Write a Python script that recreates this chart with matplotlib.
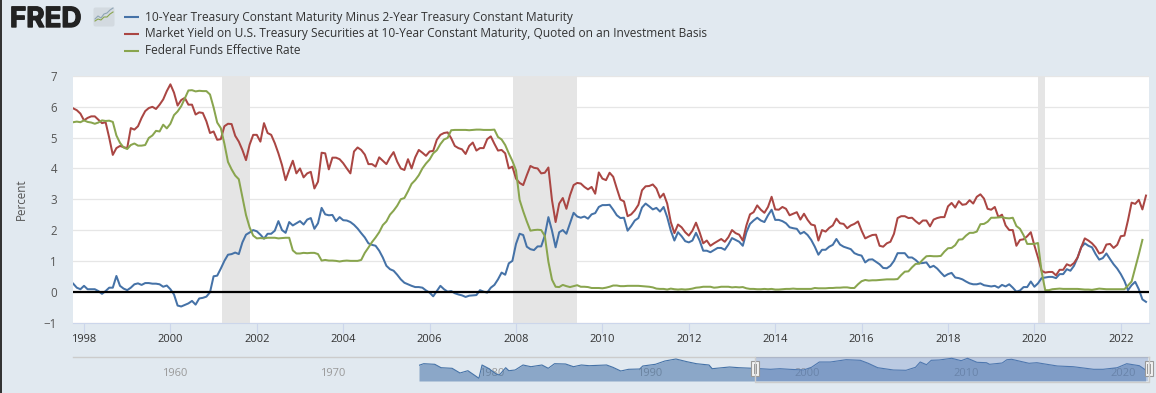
import numpy as np
import matplotlib
matplotlib.use("Agg")
import matplotlib.pyplot as plt
import matplotlib.patheffects as pe
from matplotlib.patches import FancyBboxPatch, Rectangle

W, H = 1156, 393
BG = '#e1e9f0'

# monthly, from Oct 1997
spread = (
    [.26, .13, .08]
    + [.19, .08, .08, .08, .02, -.07, .02, .13, .13, .51, .19, .10]
    + [.05, .13, .24, .27, .22, .28, .28, .26, .26, .24, .16, .20]
    + [.08, -.09, -.45, -.48, -.43, -.38, -.30, -.42, -.22, -.20, -.16, -.02]
    + [.50, .52, .75, 1.00, 1.20, 1.22, 1.27, 1.22, 1.60, 1.85, 1.92, 2.00]
    + [1.96, 1.85, 1.72, 1.88, 1.88, 1.98, 2.29, 2.00, 1.91, 2.26, 2.15, 2.22]
    + [2.29, 2.18, 2.34, 2.39, 2.04, 2.22, 2.72, 2.51, 2.48, 2.49, 2.29, 2.42]
    + [2.32, 2.31, 2.26, 2.17, 2.05, 1.90, 1.76, 1.57, 1.52, 1.49, 1.33, 1.11]
    + [.84, .73, .68, .55, .40, .29, .24, .19, .15, .15, .13, .04]
    + [-.03, -.15, .02, .19, .08, 0, .02, -.05, -.09, -.12, -.17, -.13]
    + [-.12, -.11, .05, 0, -.03, .13, .22, .40, .62, .55, .92, 1.00]
    + [1.55, 1.88, 1.84, 1.46, 1.38, 1.35, 1.47, 1.47, 1.82, 2.42, 1.98, 1.44]
    + [1.93, 2.00, 1.88, 2.22, 2.56, 2.44, 2.40, 2.44, 2.37, 2.51, 2.55, 2.75]
    + [2.81, 2.81, 2.82, 2.66, 2.48, 2.39, 2.40, 1.98, 2.13, 2.31, 2.39, 2.73]
    + [2.86, 2.77, 2.67, 2.72, 2.60, 2.75, 2.42, 1.98, 1.66, 1.93, 1.80, 1.64]
    + [1.60, 1.66, 1.91, 1.66, 1.33, 1.33, 1.28, 1.35, 1.42, 1.42, 1.36, 1.53]
    + [1.74, 1.68, 1.62, 1.49, 1.93, 2.20, 2.31, 2.40, 2.31, 2.26, 2.48, 2.66]
    + [2.33, 2.33, 2.29, 2.22, 2.09, 2.06, 2.04, 1.88, 1.94, 1.84, 1.68, 1.46]
    + [1.20, 1.36, 1.36, 1.46, 1.52, 1.71, 1.53, 1.46, 1.42, 1.38, 1.25, 1.20]
    + [1.17, .95, 1.04, 1.05, .97, .89, .77, .76, .84, 1.00, 1.25, 1.25]
    + [1.25, 1.11, 1.11, 1.03, .92, .93, .95, .79, .84, .75, .62, .50]
    + [.57, .61, .46, .44, .40, .33, .27, .24, .24, .27, .21, .19]
    + [.17, .19, .13, .22, .17, .24, .13, 0, .04, .15, .15, .33]
    + [.16, .27, .44, .46, .48, .48, .44, .57, .57, .73, .68, .84]
    + [1.11, 1.44, 1.57, 1.49, 1.44, 1.22, 1.04, 1.09, 1.24, 1.06, .89, .75]
    + [.57, .35, .05, .21, .32, .08, -.25, -.33]
)

yield_10y = (
    [5.95, 5.89, 5.78]
    + [5.56, 5.64, 5.69, 5.69, 5.58, 5.47, 5.50, 5.00, 4.44, 4.66, 4.73, 4.69]
    + [4.66, 5.31, 5.26, 5.37, 5.64, 5.86, 5.96, 6.00, 5.93, 6.07, 6.24, 6.51]
    + [6.73, 6.46, 6.04, 6.22, 6.29, 6.07, 6.07, 5.75, 5.82, 5.80, 5.53, 5.15]
    + [5.20, 4.93, 4.95, 5.37, 5.45, 5.44, 5.06, 4.87, 4.60, 4.27, 4.77, 5.09]
    + [5.09, 4.87, 5.47, 5.15, 5.09, 4.82, 4.49, 4.11, 3.62, 3.95, 4.25, 3.84]
    + [4.00, 3.71, 3.84, 3.89, 3.35, 3.57, 4.51, 4.49, 3.97, 4.35, 4.35, 4.30]
    + [4.17, 4.00, 3.84, 4.55, 4.68, 4.60, 4.45, 4.14, 4.14, 4.06, 4.36, 4.25]
    + [4.14, 4.36, 4.53, 4.22, 4.00, 3.95, 4.30, 4.00, 4.36, 4.60, 4.51, 4.41]
    + [4.55, 4.57, 4.93, 5.09, 5.15, 5.17, 4.98, 4.73, 4.66, 4.62, 4.47, 4.73]
    + [4.84, 4.58, 4.66, 4.66, 4.95, 5.04, 4.80, 4.58, 4.60, 4.49, 4.00, 4.06]
    + [3.67, 3.53, 3.46, 3.78, 4.08, 4.02, 4.00, 3.84, 3.86, 4.03, 2.97, 2.26]
    + [2.86, 3.04, 2.69, 3.13, 3.46, 3.53, 3.51, 3.40, 3.32, 3.40, 3.18, 3.87]
    + [3.67, 3.62, 3.86, 3.73, 3.35, 2.99, 2.93, 2.45, 2.51, 2.64, 2.82, 3.29]
    + [3.42, 3.43, 3.48, 3.35, 3.05, 3.18, 2.86, 2.26, 1.90, 2.18, 2.09, 1.93]
    + [1.82, 1.98, 2.24, 1.93, 1.57, 1.66, 1.49, 1.57, 1.64, 1.71, 1.62, 1.77]
    + [2.00, 1.90, 1.85, 1.66, 2.15, 2.51, 2.58, 2.80, 2.66, 2.56, 2.75, 3.08]
    + [2.67, 2.66, 2.75, 2.69, 2.48, 2.53, 2.58, 2.34, 2.53, 2.33, 2.18, 2.15]
    + [1.66, 2.00, 1.95, 2.07, 2.15, 2.37, 2.22, 2.20, 2.06, 2.15, 2.20, 2.28]
    + [1.98, 1.73, 1.79, 1.84, 1.85, 1.49, 1.46, 1.57, 1.62, 1.88, 2.39, 2.45]
    + [2.45, 2.39, 2.40, 2.29, 2.20, 2.31, 2.31, 2.12, 2.34, 2.39, 2.42, 2.42]
    + [2.77, 2.88, 2.73, 2.94, 2.82, 2.84, 2.97, 2.86, 3.08, 3.16, 3.02, 2.69]
    + [2.66, 2.75, 2.42, 2.50, 2.15, 2.00, 2.00, 1.49, 1.68, 1.70, 1.80, 1.93]
    + [1.50, 1.11, .68, .62, .64, .64, .53, .71, .71, .89, .84, .93]
    + [1.11, 1.44, 1.73, 1.66, 1.57, 1.44, 1.24, 1.28, 1.53, 1.55, 1.42, 1.52]
    + [1.80, 1.82, 2.32, 2.89, 2.85, 2.98, 2.67, 3.12]
)

fed_funds = (
    [5.50, 5.52, 5.50]
    + [5.56, 5.51, 5.49, 5.45, 5.49, 5.56, 5.54, 5.55, 5.51, 5.07, 4.83, 4.68]
    + [4.63, 4.76, 4.81, 4.74, 4.74, 4.76, 4.99, 5.07, 5.22, 5.20, 5.42, 5.30]
    + [5.45, 5.73, 5.85, 6.02, 6.27, 6.53, 6.54, 6.50, 6.52, 6.51, 6.51, 6.40]
    + [5.98, 5.49, 5.31, 4.80, 4.21, 3.97, 3.77, 3.65, 3.07, 2.49, 2.09, 1.82]
    + [1.73, 1.74, 1.73, 1.75, 1.75, 1.75, 1.73, 1.74, 1.75, 1.75, 1.34, 1.24]
    + [1.24, 1.26, 1.25, 1.26, 1.26, 1.22, 1.01, 1.03, 1.01, 1.01, 1.00, .98]
    + [1.00, 1.01, 1.00, 1.00, 1.00, 1.03, 1.26, 1.43, 1.61, 1.76, 1.93, 2.16]
    + [2.28, 2.50, 2.63, 2.79, 3.00, 3.04, 3.26, 3.50, 3.62, 3.78, 4.00, 4.16]
    + [4.29, 4.49, 4.59, 4.79, 4.94, 4.99, 5.24, 5.25, 5.25, 5.25, 5.25, 5.24]
    + [5.25, 5.26, 5.26, 5.25, 5.25, 5.25, 5.26, 5.02, 4.94, 4.76, 4.49, 4.24]
    + [3.94, 2.98, 2.61, 2.28, 1.98, 2.00, 2.01, 2.00, 1.81, .97, .39, .16]
    + [.15, .22, .18, .15, .18, .21, .16, .16, .15, .12, .12, .12]
    + [.11, .13, .16, .20, .20, .18, .18, .19, .19, .19, .19, .18]
    + [.17, .16, .14, .10, .09, .09, .07, .10, .08, .07, .08, .07]
    + [.08, .10, .13, .14, .16, .16, .16, .13, .14, .16, .16, .16]
    + [.14, .15, .14, .15, .11, .09, .09, .08, .08, .09, .08, .09]
    + [.07, .07, .08, .09, .09, .10, .09, .09, .09, .09, .09, .12]
    + [.11, .11, .11, .12, .12, .13, .13, .14, .14, .12, .12, .24]
    + [.34, .38, .36, .37, .37, .38, .39, .40, .40, .40, .41, .54]
    + [.65, .66, .79, .90, .91, 1.04, 1.15, 1.16, 1.15, 1.15, 1.16, 1.30]
    + [1.41, 1.42, 1.51, 1.69, 1.70, 1.82, 1.91, 1.91, 1.95, 2.19, 2.20, 2.27]
    + [2.40, 2.40, 2.41, 2.42, 2.39, 2.38, 2.40, 2.13, 2.04, 1.83, 1.55, 1.55]
    + [1.55, 1.58, .65, .05, .05, .08, .09, .10, .09, .09, .09, .09]
    + [.09, .08, .07, .07, .06, .08, .10, .09, .08, .08, .08, .08]
    + [.08, .08, .20, .33, .77, 1.21, 1.68]
)

recession_start = [2001.19, 2007.92, 2020.08]
recession_end = [2001.85, 2009.42, 2020.25]

legend_labels = [
    '10-Year Treasury Constant Maturity Minus 2-Year Treasury Constant Maturity',
    'Market Yield on U.S. Treasury Securities at 10-Year Constant Maturity, Quoted on an Investment Basis',
    'Federal Funds Effective Rate',
]
colors = ['#4572a7', '#aa4643', '#89a54e']

year_ticks = list(range(1998, 2024, 2))
y_ticks = [-1, 0, 1, 2, 3, 4, 5, 6, 7]

nav_years = [1975.4, 1975.7, 1976.4, 1976.8, 1977.5, 1978.0, 1978.5, 1978.9, 1979.2, 1979.4,
             1979.8, 1980.3, 1980.5, 1980.9, 1981.1, 1981.5, 1982.0, 1982.5, 1983.2, 1983.6,
             1984.0, 1984.7, 1985.2, 1985.7, 1986.2, 1987.3, 1987.7, 1988.2, 1988.7, 1989.4,
             1989.6, 1990.4, 1991.0, 1991.7, 1992.4, 1993.0, 1993.8, 1994.0, 1995.1, 1995.7,
             1996.6, 1997.7, 1998.3, 1998.9, 1999.8, 2000.3, 2000.8, 2001.5, 2002.5, 2003.4,
             2003.9, 2004.5, 2005.5, 2006.3, 2006.9, 2007.2, 2007.6, 2007.9, 2008.4, 2009.2,
             2009.8, 2010.2, 2010.8, 2011.4, 2011.6, 2012.4, 2012.7, 2013.0, 2014.1, 2014.6,
             2015.9, 2016.9, 2018.2, 2018.8, 2019.7, 2020.3, 2021.1, 2021.5]
nav_values = [15.7, 17.3, 16.7, 13.3, 12.7, 8.0, 10.3, 6.0, 2.7, 16.0,
              12.7, 7.0, 6.0, 13.3, 10.3, 11.0, 16.0, 14.3, 16.0, 12.7,
              17.3, 17.0, 14.3, 16.0, 15.3, 16.0, 13.7, 10.0, 11.7, 12.0,
              15.0, 16.7, 20.0, 22.0, 19.3, 17.3, 16.0, 12.3, 14.0, 13.3,
              12.7, 11.7, 12.3, 11.7, 11.0, 13.7, 19.0, 19.0, 21.3, 20.7,
              17.7, 13.3, 11.0, 10.7, 13.7, 19.0, 16.3, 20.7, 21.0, 22.7,
              20.3, 22.7, 18.7, 18.3, 16.7, 18.0, 21.3, 21.7, 17.7, 18.3,
              15.0, 14.3, 11.7, 11.7, 13.3, 17.3, 15.3, 11.0]
nav_labels = ['1960', '1970', '1980', '1990', '2000', '2010', '2020']
nav_label_x = [175, 333, 492, 650, 807, 966, 1123]

logo_line_a = [0, 3, 6, 9, 12, 15, 18]
logo_line_b = [5, 8, 6, 10, 11, 14, 16]
logo_line_c = [3, 5, 4, 7, 7, 10, 12]


def pixel_axes(fig, left, top, right, bottom):
    return fig.add_axes([left / W, 1 - bottom / H, (right - left) / W, (bottom - top) / H])


plt.rcParams['font.family'] = ['Open Sans', 'DejaVu Sans']
fig = plt.figure(figsize=(W / 100, H / 100), dpi=100, facecolor=BG)

# page level stuff, in pixels
page = fig.add_axes([0, 0, 1, 1], zorder=0)
page.set_xlim(0, W)
page.set_ylim(H, 0)
page.axis('off')
page.add_patch(Rectangle((0, 0), 1.5, H, color='#333333', lw=0))
logo = page.text(10, 27, 'FRED', fontsize=20, fontweight='bold', family='Inter',
                 color='#222222', va='baseline', ha='left')
logo.set_path_effects([pe.withStroke(linewidth=1.0, foreground='#222222')])
page.add_patch(FancyBboxPatch((94, 8), 20, 18, boxstyle='round,pad=0.5,rounding_size=2',
                              fc='#d3dae0', ec='none'))
page.plot(np.array(logo_line_a) + 95, 24 - np.array(logo_line_b), color='#8fa5b5', lw=0.8)
page.plot(np.array(logo_line_a) + 95, 24 - np.array(logo_line_c), color='#89a54e', lw=0.8)

for i, label in enumerate(legend_labels):
    y = 17 + i * 17
    page.plot([124, 139], [y, y], color=colors[i], lw=1.5, solid_capstyle='butt')
    page.text(145, y, label, fontsize=8.6, color='#333333', va='center', ha='left')

# main chart
ax = pixel_axes(fig, 73, 76, 1149, 322.5)
ax.set_zorder(2)
ax.set_facecolor('white')
months = 1997.75 + np.arange(len(spread)) / 12
for start, end in zip(recession_start, recession_end):
    ax.axvspan(start, end, color='#e5e5e5', lw=0, zorder=1.5)
ax.plot(months, spread, color=colors[0], lw=1.45, zorder=3)
ax.plot(1997.75 + np.arange(len(yield_10y)) / 12, yield_10y, color=colors[1], lw=1.45, zorder=3)
ax.plot(1997.75 + np.arange(len(fed_funds)) / 12, fed_funds, color=colors[2], lw=1.45, zorder=3)
ax.axhline(0, color='black', lw=1.6, zorder=4)

ax.set_xlim(1998 - 11 / 43.2, 1998 + 1065 / 43.2)
ax.set_ylim(-1, 7)
ax.set_yticks(y_ticks)
ax.set_xticks(year_ticks)
ax.grid(axis='y', color='#e6e6e6', lw=0.9, zorder=1)
ax.set_axisbelow(True)
for side in ['top', 'right', 'left']:
    ax.spines[side].set_visible(False)
ax.spines['bottom'].set_color('#ccd6eb')
ax.spines['bottom'].set_linewidth(0.8)
ax.tick_params(axis='x', length=7, width=0.8, color='#ccd6eb', labelsize=8, labelcolor='#333333', pad=1.5)
ax.tick_params(axis='y', length=0, labelsize=8.3, labelcolor='#555555', pad=11.5)
ax.set_ylabel('Percent', fontsize=8.4, color='#555555', labelpad=0)
ax.yaxis.set_label_coords(-45 / 1076, 0.5)

# navigator
page.plot([73, 1149], [356.5, 356.5], color='#cccccc', lw=1)
for label, x in zip(nav_labels, nav_label_x):
    page.text(x, 373, label, fontsize=8, color='#999999', ha='center', va='center')

nav = pixel_axes(fig, 419, 356, 1148, 381)
nav.set_zorder(3)
nav.patch.set_alpha(0)
nav.set_xlim(1975.4, 2021.65)
nav.set_ylim(0, 25)
nav.axis('off')
nav.fill_between(nav_years, nav_values, 0, color='#4572a7', alpha=0.55, lw=0)
nav.plot(nav_years, nav_values, color='#4572a7', lw=0.8)

top = fig.add_axes([0, 0, 1, 1], zorder=4)
top.patch.set_alpha(0)
top.set_xlim(0, W)
top.set_ylim(H, 0)
top.axis('off')
top.add_patch(Rectangle((755, 356.5), 393, 24.5, fc='#6685c2', alpha=0.3, lw=0))
top.plot([755, 755, 1148.5, 1148.5], [356.5, 381.5, 381.5, 356.5], color='#cccccc', lw=1)
for x in [755, 1148.5]:
    top.add_patch(Rectangle((x - 4, 361), 8, 15, fc='#f2f2f2', ec='#999999', lw=0.8))
    top.plot([x - 1.2, x - 1.2], [364, 373], color='#999999', lw=0.7)
    top.plot([x + 1.2, x + 1.2], [364, 373], color='#999999', lw=0.7)

fig.savefig('out.png', dpi=100, facecolor=BG)
